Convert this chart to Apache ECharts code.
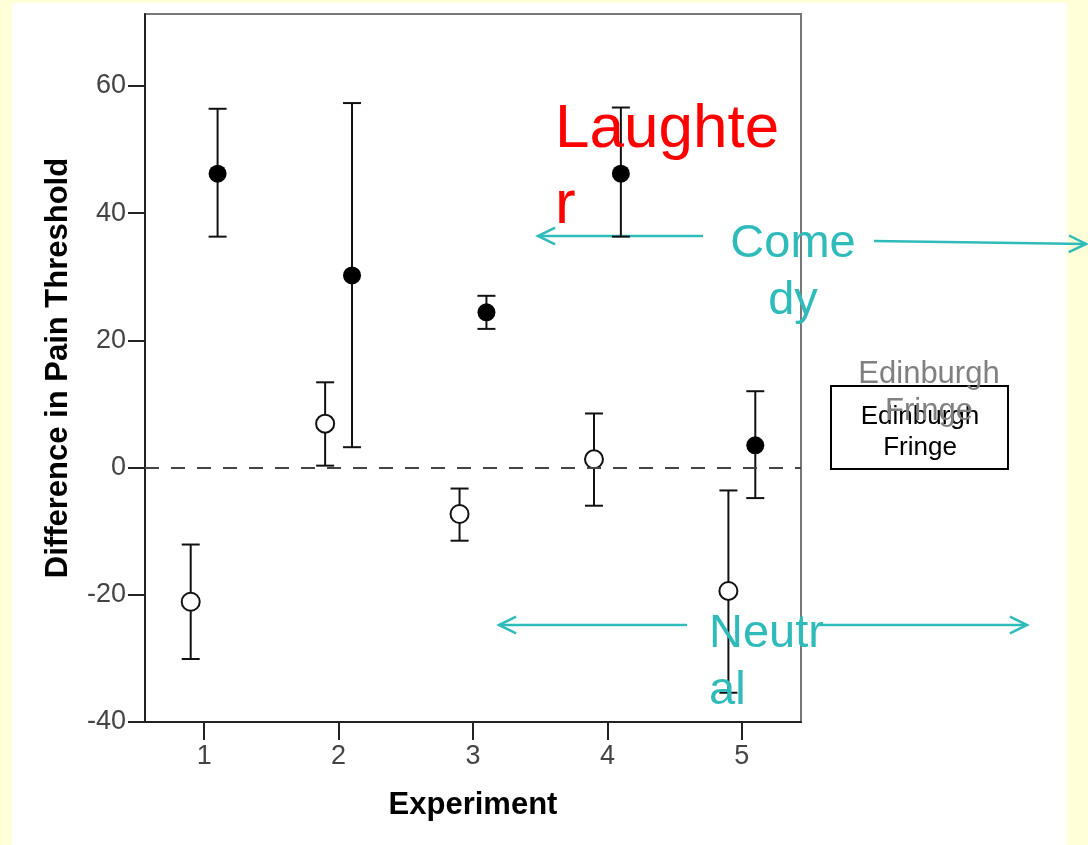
<!DOCTYPE html>
<html>
<head>
<meta charset="utf-8">
<title>Difference in Pain Threshold</title>
<script src="https://cdn.jsdelivr.net/npm/echarts@6.0.0/dist/echarts.min.js"></script>
<style>
  html, body { margin: 0; padding: 0; background: #FFFFD8; }
  #panel { position: absolute; left: 12px; top: 3px; width: 1055px; height: 842px; background: #fff; }
  #chart { position: absolute; left: 0; top: 0; width: 1088px; height: 845px; }
</style>
</head>
<body>
<div id="panel"></div>
<div id="chart"></div>
<script>
// experiments on the x axis
const experiments = [1, 2, 3, 4, 5];
const xTicks = [1, 2, 3, 4, 5];
const yTicks = [-40, -20, 0, 20, 40, 60];

// laughter (filled dots), mean and error bar ends
const laughterMean = [46.2, 30.2, 24.4, 46.2, 3.5];
const laughterLow = [36.3, 3.2, 21.8, 36.3, -4.8];
const laughterHigh = [56.4, 57.3, 27.0, 56.6, 12.0];

// neutral (open dots)
const neutralMean = [-21.1, 6.9, -7.3, 1.3, -19.4];
const neutralLow = [-30.1, 0.3, -11.5, -6.0, -35.4];
const neutralHigh = [-12.1, 13.4, -3.3, 8.5, -3.6];

const dodge = 0.1;
const cyan = '#30BBBB';
const font = '"Liberation Sans", Arial, sans-serif';

function points(mean, shift) {
  return experiments.map((e, i) => [e + shift, mean[i]]);
}
function bars(low, high, shift) {
  return experiments.map((e, i) => [e + shift, low[i], high[i]]);
}

function renderBar(params, api) {
  let x = api.value(0);
  let lo = api.coord([x, api.value(1)]);
  let hi = api.coord([x, api.value(2)]);
  let w = 9;
  let style = { stroke: '#111', lineWidth: 2 };
  return {
    type: 'group',
    children: [
      { type: 'line', shape: { x1: lo[0], y1: lo[1], x2: hi[0], y2: hi[1] }, style: style },
      { type: 'line', shape: { x1: lo[0] - w, y1: lo[1], x2: lo[0] + w, y2: lo[1] }, style: style },
      { type: 'line', shape: { x1: hi[0] - w, y1: hi[1], x2: hi[0] + w, y2: hi[1] }, style: style }
    ]
  };
}

function arrow(x1, y1, x2, y2) {
  // arrow head at (x2, y2)
  let ang = Math.atan2(y2 - y1, x2 - x1);
  let len = 19, spread = 0.45;
  let a = [x2 - len * Math.cos(ang - spread), y2 - len * Math.sin(ang - spread)];
  let b = [x2 - len * Math.cos(ang + spread), y2 - len * Math.sin(ang + spread)];
  return {
    type: 'group',
    children: [
      { type: 'line', shape: { x1: x1, y1: y1, x2: x2, y2: y2 }, style: { stroke: cyan, lineWidth: 2.5 } },
      { type: 'polyline', shape: { points: [a, [x2, y2], b] }, style: { stroke: cyan, lineWidth: 2.5, fill: null } }
    ]
  };
}

let chart = echarts.init(document.getElementById('chart'));
chart.setOption({
  backgroundColor: 'transparent',
  animation: false,
  grid: {
    left: 145, right: 287, top: 14, bottom: 123,
    show: true, backgroundColor: '#fff', borderColor: '#777', borderWidth: 2
  },
  xAxis: {
    type: 'value',
    min: 0.56, max: 5.44,
    name: 'Experiment',
    nameLocation: 'middle',
    nameGap: 68,
    nameTextStyle: { fontFamily: font, fontWeight: 'bold', fontSize: 31, color: '#000' },
    axisLine: { show: true, onZero: false, lineStyle: { color: '#222', width: 2 } },
    axisTick: { show: true, length: 18, customValues: xTicks, lineStyle: { color: '#222', width: 2 } },
    axisLabel: { customValues: xTicks, margin: 21, fontFamily: font, fontSize: 27, color: '#444' },
    splitLine: { show: false }
  },
  yAxis: {
    type: 'value',
    min: -40, max: 71.3,
    name: 'Difference in Pain Threshold',
    nameLocation: 'middle',
    nameGap: 71,
    nameTextStyle: { fontFamily: font, fontWeight: 'bold', fontSize: 31, color: '#000' },
    axisLine: { show: true, lineStyle: { color: '#222', width: 2 } },
    axisTick: { show: true, length: 17, customValues: yTicks, lineStyle: { color: '#222', width: 2 } },
    axisLabel: { customValues: yTicks, margin: 19, fontFamily: font, fontSize: 27, color: '#444' },
    splitLine: { show: false }
  },
  series: [
    {
      type: 'custom',
      renderItem: renderBar,
      data: bars(neutralLow, neutralHigh, -dodge),
      z: 2
    },
    {
      type: 'custom',
      renderItem: renderBar,
      data: bars(laughterLow, laughterHigh, dodge),
      z: 2
    },
    {
      name: 'Neutral',
      type: 'scatter',
      symbol: 'circle',
      symbolSize: 18,
      itemStyle: { color: '#fff', borderColor: '#111', borderWidth: 2, opacity: 1 },
      data: points(neutralMean, -dodge),
      z: 3,
      markLine: {
        silent: true,
        symbol: 'none',
        label: { show: false },
        lineStyle: { color: '#444', width: 2, type: [14, 12] },
        data: [{ yAxis: 0 }]
      }
    },
    {
      name: 'Laughter',
      type: 'scatter',
      symbol: 'circle',
      symbolSize: 18,
      itemStyle: { color: '#000', opacity: 1 },
      data: points(laughterMean, dodge),
      z: 3
    }
  ],
  graphic: [
    arrow(703, 236, 538, 236),
    arrow(874, 241, 1086, 244),
    arrow(687, 625, 499, 625),
    arrow(820, 625, 1027, 625),
    {
      type: 'text', x: 555, y: 92, z: 10,
      style: { text: 'Laughte\nr', font: '62px ' + font, fill: '#FF0000', lineHeight: 76, textAlign: 'left', textVerticalAlign: 'top' }
    },
    {
      type: 'text', x: 793, y: 216, z: 10,
      style: { text: 'Come\ndy', font: '47px ' + font, fill: cyan, lineHeight: 57, textAlign: 'center', textVerticalAlign: 'top' }
    },
    {
      type: 'text', x: 709, y: 606, z: 10,
      style: { text: 'Neutr\nal', font: '47px ' + font, fill: cyan, lineHeight: 57, textAlign: 'left', textVerticalAlign: 'top' }
    },
    {
      type: 'rect', z: 10,
      shape: { x: 831, y: 386, width: 177, height: 83 },
      style: { fill: '#fff', stroke: '#000', lineWidth: 2 }
    },
    {
      type: 'text', x: 920, y: 401, z: 11,
      style: { text: 'Edinburgh\nFringe', font: '26px ' + font, fill: '#000', lineHeight: 31, textAlign: 'center', textVerticalAlign: 'top' }
    },
    {
      type: 'text', x: 929, y: 356, z: 12,
      style: { text: 'Edinburgh\nFringe', font: '31px ' + font, fill: '#808080', lineHeight: 37, textAlign: 'center', textVerticalAlign: 'top' }
    }
  ]
});
</script>
</body>
</html>
